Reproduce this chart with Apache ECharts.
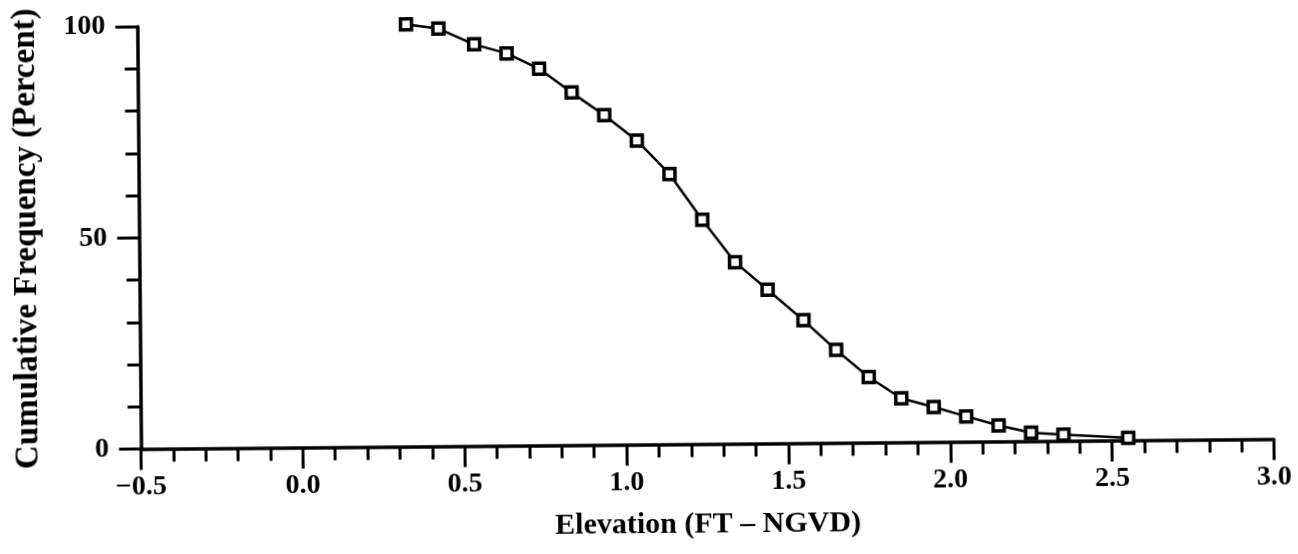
<!DOCTYPE html>
<html>
<head>
<meta charset="utf-8">
<script src="https://cdn.jsdelivr.net/npm/echarts@6/dist/echarts.min.js"></script>
<style>
html,body{margin:0;padding:0;background:#fff;overflow:hidden;}
#chart{width:1298px;height:554px;transform:rotate(-0.5deg);transform-origin:50% 50%;}
</style>
</head>
<body>
<div id="chart"></div>
<script>
// Elevation (FT - NGVD) of each plotted point
const elevation = [0.33, 0.43, 0.54, 0.64, 0.74, 0.84, 0.94, 1.04, 1.14, 1.24, 1.34,
                   1.44, 1.55, 1.65, 1.75, 1.85, 1.95, 2.05, 2.15, 2.25, 2.35, 2.55];
// Cumulative frequency (percent)
const cumFreq = [100, 98.9, 95.1, 92.9, 89.2, 83.5, 78.1, 72.0, 64.0, 53.1, 43.0,
                 36.4, 29.1, 22.0, 15.5, 10.4, 8.3, 6.0, 3.8, 2.0, 1.5, 0.6];
// Tick labels
const xTickValues = [-0.5, 0.0, 0.5, 1.0, 1.5, 2.0, 2.5, 3.0];
const xTickLabels = ['\u22120.5', '0.0', '0.5', '1.0', '1.5', '2.0', '2.5', '3.0'];
const yTickValues = [0, 50, 100];
const yTickLabels = ['0', '50', '100'];

const FONT = "'Liberation Serif', 'DejaVu Serif', serif";
const points = elevation.map((x, i) => [x, cumFreq[i]]);

function lookup(values, labels, v) {
  for (let i = 0; i < values.length; i++) {
    if (Math.abs(values[i] - v) < 1e-6) return labels[i];
  }
  return '';
}

const chart = echarts.init(document.getElementById('chart'), null, {renderer: 'canvas'});
chart.setOption({
  animation: false,
  backgroundColor: '#fff',
  grid: {left: 139.5, top: 16.5, width: 1133, height: 428, containLabel: false},
  xAxis: {
    type: 'value',
    min: -0.5, max: 3.0, interval: 0.5,
    name: 'Elevation (FT \u2013 NGVD)',
    nameLocation: 'middle',
    nameGap: 66,
    nameTextStyle: {fontFamily: FONT, fontWeight: 'bold', fontSize: 30, color: '#000'},
    axisLine: {show: true, onZero: false, lineStyle: {color: '#000', width: 3.5}},
    axisTick: {show: true, inside: false, length: 21, lineStyle: {color: '#000', width: 3}},
    minorTick: {show: true, splitNumber: 5, length: 13, lineStyle: {color: '#000', width: 3}},
    axisLabel: {
      margin: 24,
      fontFamily: FONT, fontWeight: 'bold', fontSize: 28, color: '#000',
      formatter: v => lookup(xTickValues, xTickLabels, v)
    },
    splitLine: {show: false},
    minorSplitLine: {show: false}
  },
  yAxis: {
    type: 'value',
    min: 0, max: 100, interval: 50,
    name: 'Cumulative Frequency (Percent)',
    nameLocation: 'middle',
    nameRotate: 90,
    nameGap: 96,
    nameTextStyle: {fontFamily: FONT, fontWeight: 'bold', fontSize: 33, color: '#000'},
    axisLine: {show: true, onZero: false, lineStyle: {color: '#000', width: 3.5}},
    axisTick: {show: true, inside: false, length: 22, lineStyle: {color: '#000', width: 3}},
    minorTick: {show: true, splitNumber: 5, length: 13, lineStyle: {color: '#000', width: 3}},
    axisLabel: {
      margin: 32,
      fontFamily: FONT, fontWeight: 'bold', fontSize: 28, color: '#000',
      formatter: v => lookup(yTickValues, yTickLabels, v)
    },
    splitLine: {show: false},
    minorSplitLine: {show: false}
  },
  series: [{
    type: 'line',
    data: points,
    showAllSymbol: true,
    symbol: 'rect',
    symbolSize: 11,
    smooth: false,
    lineStyle: {color: '#000', width: 2.5},
    itemStyle: {color: '#fff', borderColor: '#000', borderWidth: 3.5},
    z: 3
  }]
});
</script>
</body>
</html>
